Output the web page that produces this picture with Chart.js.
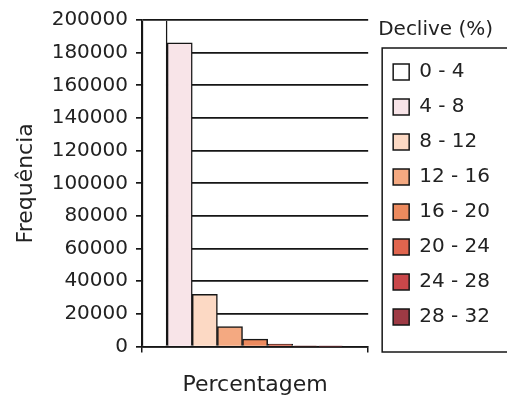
<!DOCTYPE html>
<html>
<head>
<meta charset="utf-8">
<script src="https://cdn.jsdelivr.net/npm/chart.js@4.4.0/dist/chart.umd.min.js"></script>
<style>
  html, body { margin: 0; padding: 0; background: #ffffff; }
  #wrap { width: 507px; height: 405px; }
</style>
</head>
<body>
<div id="wrap"><canvas id="chart" width="507" height="405"></canvas></div>
<script>
// Slope classes (Declive, %) and how many cells fall in each class
const categories = [''];
const slopeClasses = ['0 - 4', '4 - 8', '8 - 12', '12 - 16', '16 - 20', '20 - 24', '24 - 28', '28 - 32'];
const frequencies = [230000, 186000, 32000, 12300, 4600, 1500, 300, 60];
const frequencyTicks = [0, 20000, 40000, 60000, 80000, 100000, 120000, 140000, 160000, 180000, 200000];

const classColors = ['#ffffff', '#f8e4e8', '#fcd9c4', '#f4a981', '#ec8a5e', '#e0654e', '#c9474a', '#9e3a44'];
const ink = '#161616';

Chart.defaults.font.family = '"DejaVu Sans", Arial, sans-serif';
Chart.defaults.color = '#222';

const datasets = slopeClasses.map((label, i) => ({
  label,
  data: [frequencies[i]],
  backgroundColor: classColors[i],
  borderColor: ink,
  borderWidth: 1.5,
  categoryPercentage: 1,
  barPercentage: 1,
  clip: { left: 1, right: 1, top: -1, bottom: 1 }
}));
// empty slot that leaves room to the right of the last class
datasets.push({ label: '', data: [null], backgroundColor: 'rgba(0,0,0,0)', borderWidth: 0,
  categoryPercentage: 1, barPercentage: 1 });

// frame around the legend entries
const legendFrame = {
  id: 'legendFrame',
  afterDraw(chart) {
    const boxes = chart.legend && chart.legend.legendHitBoxes;
    if (!boxes || !boxes.length) return;
    const first = boxes[0];
    const last = boxes[boxes.length - 1];
    const ctx = chart.ctx;
    ctx.save();
    ctx.strokeStyle = ink;
    ctx.lineWidth = 1.5;
    const left = first.left - 11;
    const top = first.top - 14;
    const bottom = last.top + last.height + 25;
    ctx.strokeRect(left, top, chart.width + 10 - left, bottom - top);
    ctx.restore();
  }
};

new Chart(document.getElementById('chart'), {
  type: 'bar',
  data: { labels: categories, datasets },
  plugins: [legendFrame],
  options: {
    responsive: false,
    animation: false,
    layout: { padding: { left: 10, top: 20, right: 7, bottom: 5 } },
    plugins: {
      tooltip: { enabled: false },
      legend: {
        position: 'right',
        align: 'start',
        labels: {
          boxWidth: 16,
          boxHeight: 16,
          padding: 15,
          font: { size: 20 },
          color: '#222',
          filter: item => item.text !== ''
        },
        title: {
          display: true,
          text: 'Declive (%)',
          position: 'start',
          font: { size: 20 },
          color: '#222',
          padding: { top: 0, bottom: 3 }
        }
      }
    },
    scales: {
      x: {
        type: 'category',
        grid: { display: true, drawOnChartArea: false, drawTicks: true, tickLength: 6, color: ink, lineWidth: 1.5, offset: true },
        border: { color: ink, width: 1.5 },
        ticks: { display: false },
        title: { display: true, text: 'Percentagem', font: { size: 22 }, color: '#222', padding: { top: 19, bottom: 2 } }
      },
      y: {
        min: 0,
        max: 200000,
        afterBuildTicks: scale => { scale.ticks = frequencyTicks.map(v => ({ value: v })); },
        afterFit: scale => { scale.width = 132; },
        ticks: { font: { size: 20 }, color: '#222', padding: 8, callback: v => String(v) },
        grid: { color: ink, lineWidth: 1.7, tickLength: 6, drawTicks: true },
        border: { color: ink, width: 1.7 },
        title: { display: true, text: 'Frequência', font: { size: 22 }, color: '#222', padding: { top: 3, bottom: 12 } }
      },
      gap: {
        type: 'linear',
        position: 'right',
        display: false,
        afterFit: scale => { scale.width = 10; }
      }
    }
  }
});
</script>
</body>
</html>
